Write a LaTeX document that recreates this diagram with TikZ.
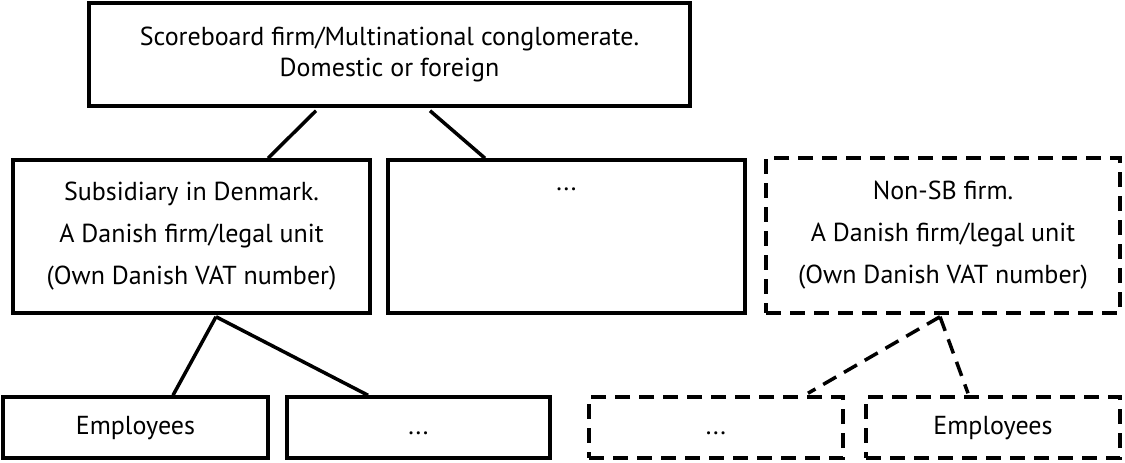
\documentclass[tikz,border=0pt]{standalone}
\usepackage{fontspec}
\setmainfont{PT Sans}
\begin{document}
\begin{tikzpicture}[x=1pt,y=-1pt,
  box/.style={draw=black, line width=3.5pt, fill=white, inner sep=0pt, align=center, font=\fontsize{26}{42}\selectfont},
  dbox/.style={box, dash pattern=on 15pt off 9pt},
  single/.style={text height=19pt, text depth=6pt},
  conn/.style={line width=3.5pt},
  dconn/.style={line width=3.5pt, dash pattern=on 15pt off 9pt}]
\useasboundingbox (0,0) rectangle (1125,463);
\node[box, minimum width=601pt, minimum height=103pt, font=\fontsize{26}{31}\selectfont] (top) at (389.5,54.5)
  {Scoreboard firm/Multinational conglomerate.\\Domestic or foreign};
\node[box, minimum width=357pt, minimum height=153pt] (sub) at (191.5,236.5)
  {Subsidiary in Denmark.\\A Danish firm/legal unit\\(Own Danish VAT number)};
\node[box, minimum width=357pt, minimum height=153pt,
  label={[anchor=north, yshift=-26pt, font=\fontsize{26}{42}\selectfont]north:...}] (mid) at (566.5,236.5) {};
\node[dbox, minimum width=354pt, minimum height=155pt] (nonsb) at (943,235.5)
  {Non-SB firm.\\A Danish firm/legal unit\\(Own Danish VAT number)};
\node[box, single, minimum width=265pt, minimum height=61pt] (emp1) at (135.5,427.5) {Employees};
\node[box, single, minimum width=263pt, minimum height=61pt] (dots1) at (418.5,427.5) {...};
\node[dbox, single, minimum width=254pt, minimum height=61pt] (dots2) at (716,427.5) {...};
\node[dbox, single, minimum width=254pt, minimum height=61pt] (emp2) at (993,427.5) {Employees};
\draw[conn] ([xshift=-73.5pt,yshift=-3pt]top.south) -- ([xshift=76.5pt]sub.north);
\draw[conn] ([xshift=40.5pt,yshift=-3pt]top.south) -- ([xshift=-81.5pt]mid.north);
\draw[conn] ([xshift=24.5pt,yshift=-2pt]sub.south) -- ([xshift=37.5pt]emp1.north);
\draw[conn] ([xshift=24.5pt,yshift=-2pt]sub.south) -- ([xshift=-50.5pt]dots1.north);
\draw[dconn] ([xshift=-3pt,yshift=-2pt]nonsb.south) -- ([xshift=92pt,yshift=2pt]dots2.north);
\draw[dconn] ([xshift=-3pt,yshift=-2pt]nonsb.south) -- ([xshift=-25pt,yshift=2pt]emp2.north);
\end{tikzpicture}
\end{document}
